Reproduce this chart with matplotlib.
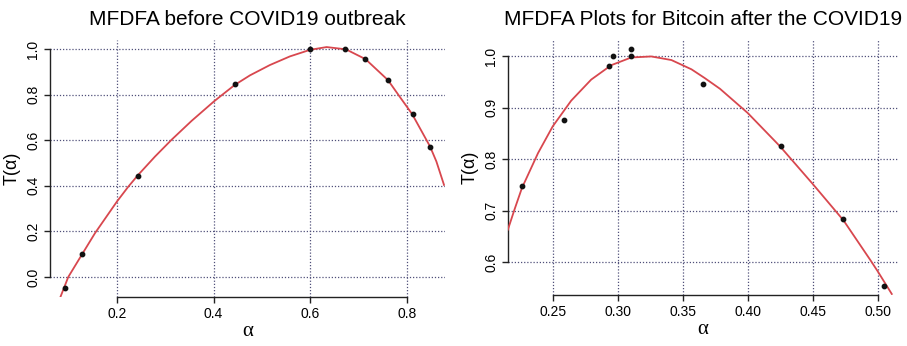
import matplotlib
matplotlib.use('Agg')
import matplotlib.pyplot as plt

plt.rcParams['font.family'] = ['Liberation Sans', 'DejaVu Sans']

# left panel: before COVID19
pre_alpha = [0.0925, 0.128, 0.244, 0.444, 0.600, 0.673, 0.714, 0.761, 0.812, 0.848]
pre_t = [-0.050, 0.100, 0.443, 0.845, 1.000, 1.000, 0.957, 0.864, 0.714, 0.571]
pre_fit_alpha = [0.0821, 0.0993, 0.128, 0.1545, 0.200, 0.2234, 0.244, 0.2786, 0.313,
                 0.3545, 0.400, 0.4165, 0.444, 0.4755, 0.5165, 0.558, 0.600, 0.634,
                 0.674, 0.7145, 0.761, 0.785, 0.811, 0.848, 0.8612, 0.877]
pre_fit_t = [-0.093, 0.000, 0.100, 0.192, 0.331, 0.396, 0.448, 0.528, 0.602,
             0.685, 0.769, 0.797, 0.843, 0.885, 0.930, 0.968, 0.997, 1.009,
             0.999, 0.956, 0.864, 0.792, 0.715, 0.573, 0.507, 0.404]

# right panel: after COVID19
post_alpha = [0.2266, 0.2587, 0.2936, 0.2962, 0.3102, 0.3102, 0.3654, 0.4254, 0.473, 0.505]
post_t = [0.748, 0.877, 0.982, 1.001, 1.014, 1.000, 0.946, 0.825, 0.683, 0.554]
post_fit_alpha = [0.2155, 0.2207, 0.2263, 0.2387, 0.250, 0.2642, 0.2796, 0.2950, 0.3104,
                  0.3258, 0.3413, 0.3567, 0.3669, 0.3787, 0.400, 0.4249, 0.450, 0.4737,
                  0.4943, 0.500, 0.5108]
post_fit_t = [0.663, 0.703, 0.744, 0.812, 0.864, 0.914, 0.955, 0.983, 0.998,
              1.000, 0.993, 0.975, 0.958, 0.937, 0.890, 0.825, 0.752, 0.681,
              0.604, 0.582, 0.538]

fig = plt.figure(figsize=(9.07, 3.46), dpi=100)
ax1 = fig.add_axes([0.0551, 0.1416, 0.4355, 0.7428])
ax2 = fig.add_axes([0.5598, 0.1474, 0.4303, 0.7370])

grid_col = '#50507a'
red = '#d8474e'


def style(ax, xticks, yticks, xlim, ylim, title):
    ax.set_xlim(*xlim)
    ax.set_ylim(*ylim)
    ax.set_xticks(xticks)
    ax.set_yticks(yticks)
    for x in xticks:
        ax.axvline(x, color=grid_col, lw=0.9, ls=(0, (1, 1.5)), zorder=1)
    for y in yticks:
        ax.axhline(y, color=grid_col, lw=0.9, ls=(0, (1, 1.5)), zorder=1)
    ax.spines['top'].set_visible(False)
    ax.spines['right'].set_visible(False)
    ax.spines['left'].set_bounds(yticks[0], yticks[-1])
    ax.spines['bottom'].set_bounds(xticks[0], xticks[-1])
    for s in ('left', 'bottom'):
        ax.spines[s].set_color('#222222')
        ax.spines[s].set_linewidth(1.0)
    ax.tick_params(axis='both', length=4, width=1.0, color='#222222',
                   labelsize=10, pad=3)
    ax.set_xlabel('α', fontsize=15, labelpad=1, family=['Liberation Serif', 'DejaVu Serif'])
    ax.set_ylabel('T(α)', fontsize=13, labelpad=4)
    ax.set_title(title, fontsize=15, pad=11)


ax1.plot(pre_fit_alpha, pre_fit_t, color=red, lw=1.3, zorder=3, solid_joinstyle='round')
ax1.scatter(pre_alpha, pre_t, s=10, color='#111111', zorder=4)
style(ax1, [0.2, 0.4, 0.6, 0.8], [0.0, 0.2, 0.4, 0.6, 0.8, 1.0],
      (0.0614, 0.879), (-0.088, 1.04), 'MFDFA before COVID19 outbreak')
ax1.set_xticklabels(['0.2', '0.4', '0.6', '0.8'])
ax1.set_yticklabels(['0.0', '0.2', '0.4', '0.6', '0.8', '1.0'], rotation=90, va='center')

ax2.plot(post_fit_alpha, post_fit_t, color=red, lw=1.3, zorder=3, solid_joinstyle='round')
ax2.scatter(post_alpha, post_t, s=10, color='#111111', zorder=4)
style(ax2, [0.25, 0.30, 0.35, 0.40, 0.45, 0.50], [0.6, 0.7, 0.8, 0.9, 1.0],
      (0.2154, 0.5156), (0.536, 1.032), 'MFDFA Plots for Bitcoin after the COVID19')
ax2.set_xticklabels(['0.25', '0.30', '0.35', '0.40', '0.45', '0.50'])
ax2.set_yticklabels(['0.6', '0.7', '0.8', '0.9', '1.0'], rotation=90, va='center')

fig.savefig('out.png', dpi=100)
plt.close(fig)
